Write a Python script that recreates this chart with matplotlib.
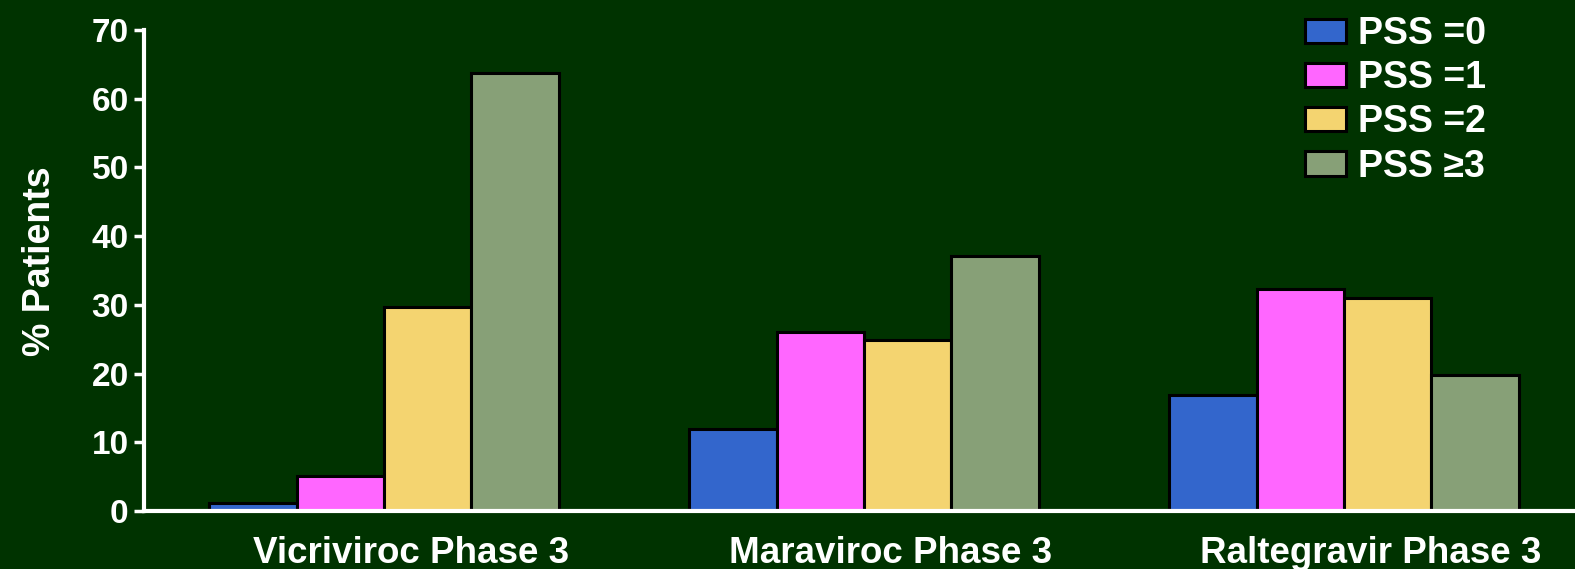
import matplotlib.pyplot as plt
import matplotlib.transforms as mtransforms
import numpy as np

# Data
studies = ["Vicriviroc Phase 3", "Maraviroc Phase 3", "Raltegravir Phase 3"]
series = ["PSS =0", "PSS =1", "PSS =2", "PSS \u22653"]
pss0 = [1.2, 12.0, 16.9]
pss1 = [5.1, 26.0, 32.3]
pss2 = [29.7, 24.9, 31.0]
pss3 = [63.8, 37.1, 19.8]
values = [pss0, pss1, pss2, pss3]
colors = ["#3366CC", "#FF66FF", "#F4D470", "#87A077"]

bg = "#003300"
plt.rcParams['font.family'] = ['Liberation Sans', 'DejaVu Sans']
plt.rcParams['font.weight'] = 'bold'

W, H = 1575, 569
fig = plt.figure(figsize=(W / 100, H / 100), dpi=100, facecolor=bg)
# axes run off the right edge so the baseline reaches the border
ax = fig.add_axes([144 / W, 1 - 511 / H, 1440 / W, (511 - 30) / H])
ax.set_facecolor(bg)

x = np.arange(len(studies))
w = 0.182
for i, (vals, c, lab) in enumerate(zip(values, colors, series)):
    ax.bar(x + (i - 1.5) * w, vals, w, color=c, edgecolor="black",
           linewidth=2.2, label=lab, zorder=2)

ax.set_xlim(-0.5, 2.5)
ax.set_ylim(0, 70)
ax.set_yticks(np.arange(0, 71, 10))
ax.set_xticks(x)
ax.set_xticklabels(studies, fontsize=26.5, fontweight='bold', color="white")
ax.tick_params(axis='x', length=0, pad=18)
shift = mtransforms.ScaledTranslation(27 / 100, 0, fig.dpi_scale_trans)
for t in ax.get_xticklabels():
    t.set_transform(t.get_transform() + shift)
ax.tick_params(axis='y', colors="white", labelsize=24, length=7, width=2.5, pad=4)
for t in ax.get_yticklabels():
    t.set_fontweight('bold')
ax.set_ylabel("% Patients", fontsize=27, fontweight='bold', color="white")
ax.yaxis.set_label_coords(-0.06, 0.52)

for s in ["top", "right"]:
    ax.spines[s].set_visible(False)
for s in ["left", "bottom"]:
    ax.spines[s].set_color("white")
    ax.spines[s].set_linewidth(3)
    ax.spines[s].set_zorder(3)

handles, labels = ax.get_legend_handles_labels()
leg = fig.legend(handles, labels, loc="upper left",
                 bbox_to_anchor=(1290 / W, 1 - 1 / H), frameon=False,
                 fontsize=27, handlelength=1.1, handleheight=0.62,
                 handletextpad=0.3, labelspacing=0.22, borderaxespad=0.0)
for t in leg.get_texts():
    t.set_color("white")
    t.set_fontweight('bold')

fig.savefig("out.png", dpi=100, facecolor=bg)
